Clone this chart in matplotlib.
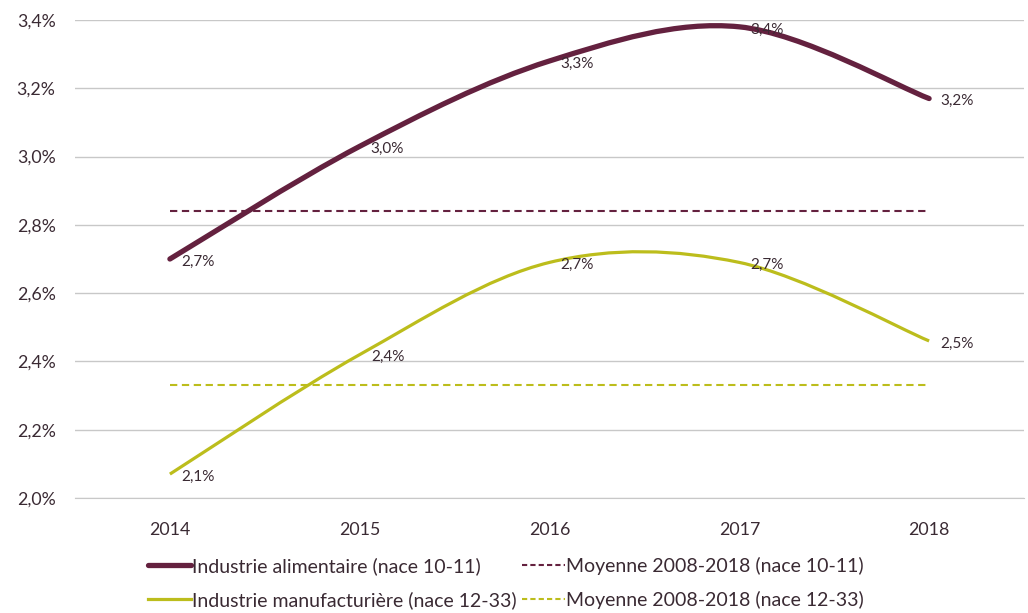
import matplotlib
matplotlib.use("Agg")
import matplotlib.pyplot as plt
from matplotlib.path import Path
from matplotlib.patches import PathPatch
from matplotlib.lines import Line2D
import numpy as np

plt.rcParams['font.family'] = ['Lato', 'DejaVu Sans']

# ------------------------
# Data
# ------------------------
years = ["2014", "2015", "2016", "2017", "2018"]
alimentaire = [2.70, 3.03, 3.28, 3.38, 3.17]
manufacturiere = [2.07, 2.42, 2.69, 2.69, 2.46]
moy_alimentaire = 2.84
moy_manufacturiere = 2.33

labels_alim = ["2,7%", "3,0%", "3,3%", "3,4%", "3,2%"]
labels_manuf = ["2,1%", "2,4%", "2,7%", "2,7%", "2,5%"]

legend_labels = [
    "Industrie alimentaire (nace 10-11)",
    "Industrie manufacturière (nace 12-33)",
    "Moyenne 2008-2018 (nace 10-11)",
    "Moyenne 2008-2018 (nace 12-33)",
]

c_alim = "#64213f"
c_manuf = "#bcbd1c"
c_text = "#3a2a33"
c_grid = "#c8c8c8"


def smooth_path(xs, ys):
    """Catmull-Rom style bezier path, like Excel's smoothed lines."""
    pts = np.column_stack([xs, ys]).astype(float)
    ext = np.vstack([pts[0], pts, pts[-1]])
    verts = [tuple(pts[0])]
    codes = [Path.MOVETO]
    for i in range(1, len(ext) - 2):
        p0, p1, p2, p3 = ext[i - 1], ext[i], ext[i + 1], ext[i + 2]
        c1 = p1 + (p2 - p0) / 6.0
        c2 = p2 - (p3 - p1) / 6.0
        verts += [tuple(c1), tuple(c2), tuple(p2)]
        codes += [Path.CURVE4] * 3
    return Path(verts, codes)


fig = plt.figure(figsize=(10.28, 6.13), dpi=100)
ax = fig.add_axes([75 / 1028, 1 - 498 / 613, 949 / 1028, 478 / 613])

x = np.arange(len(years))

ax.add_patch(PathPatch(smooth_path(x, alimentaire), fill=False, edgecolor=c_alim,
                       lw=3.8, capstyle='round', joinstyle='round', zorder=4))
ax.add_patch(PathPatch(smooth_path(x, manufacturiere), fill=False, edgecolor=c_manuf,
                       lw=2.3, capstyle='butt', joinstyle='round', zorder=4))

ax.plot([x[0], x[-1]], [moy_alimentaire] * 2, color=c_alim, lw=1.5,
        dashes=(3.5, 2.2), zorder=3)
ax.plot([x[0], x[-1]], [moy_manufacturiere] * 2, color=c_manuf, lw=1.5,
        dashes=(3.5, 2.2), zorder=3)

for xi, yi, lb in zip(x, alimentaire, labels_alim):
    ax.annotate(lb, (xi, yi), xytext=(8, -2), textcoords='offset points',
                ha='left', va='center', fontsize=11, color=c_text, zorder=5)
for xi, yi, lb in zip(x, manufacturiere, labels_manuf):
    ax.annotate(lb, (xi, yi), xytext=(8, -2), textcoords='offset points',
                ha='left', va='center', fontsize=11, color=c_text, zorder=5)

ax.set_xlim(-0.5, len(years) - 0.5)
ax.set_ylim(2.0, 3.4)
ax.set_yticks(np.arange(2.0, 3.41, 0.2))
ax.set_yticklabels([f"{v:.1f}%".replace(".", ",") for v in np.arange(2.0, 3.41, 0.2)])
ax.set_xticks(x)
ax.set_xticklabels(years)
ax.tick_params(length=0, labelsize=12.8, colors=c_text)
ax.tick_params(axis='x', pad=17)
ax.tick_params(axis='y', pad=14)
ax.grid(axis='y', color=c_grid, lw=1)
ax.set_axisbelow(True)
for s in ["top", "right", "left"]:
    ax.spines[s].set_visible(False)
ax.spines["bottom"].set_color(c_grid)

handles = [
    Line2D([], [], color=c_alim, lw=3.8, solid_capstyle='round'),
    Line2D([], [], color=c_manuf, lw=2.3),
    Line2D([], [], color=c_alim, lw=1.5, dashes=(2.5, 1.5)),
    Line2D([], [], color=c_manuf, lw=1.5, dashes=(2.5, 1.5)),
]
fig.legend(handles, legend_labels, loc='center', ncol=2,
           bbox_to_anchor=(506 / 1028, 1 - 583 / 613), frameon=False,
           fontsize=14, handlelength=2.2, handletextpad=0.05,
           columnspacing=0.3, labelspacing=0.8, labelcolor=c_text)

fig.savefig("out.png", dpi=100, facecolor="white")
